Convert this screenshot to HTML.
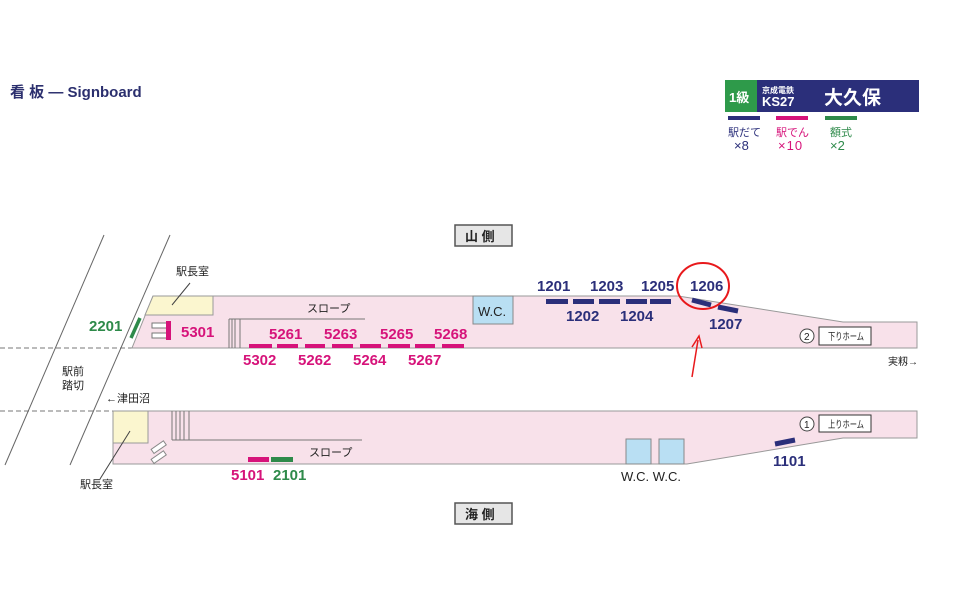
<!DOCTYPE html>
<html><head><meta charset="utf-8"><style>
body{margin:0;background:#fff}
svg{display:block}
text{font-family:"Liberation Sans","Noto Sans CJK JP",sans-serif}
</style></head><body>
<svg width="960" height="604" viewBox="0 0 960 604">
<text x="10" y="97" font-size="15" font-weight="bold" fill="#2b2f6e">看 板 — Signboard</text>
<!-- legend -->
<rect x="725" y="80" width="32" height="32" fill="#2e9a4a"/>
<rect x="757" y="80" width="162" height="32" fill="#2b2f7a"/>
<text x="729" y="102" font-size="13" font-weight="bold" fill="#fff">1級</text>
<text x="762" y="93" font-size="8" font-weight="bold" fill="#fff">京成電鉄</text>
<text x="762" y="106" font-size="13" font-weight="bold" fill="#fff">KS27</text>
<text x="824" y="104" font-size="19" font-weight="bold" fill="#fff">大久保</text>
<rect x="728" y="116" width="32" height="4" fill="#2b2f7a"/>
<rect x="776" y="116" width="32" height="4" fill="#d6137a"/>
<rect x="825" y="116" width="32" height="4" fill="#2e8a4a"/>
<text x="728" y="136" font-size="11" fill="#2b2f7a">駅だて</text>
<text x="734" y="150" font-size="13" fill="#2b2f7a">×8</text>
<text x="776" y="136" font-size="11" fill="#d6137a">駅でん</text>
<text x="778" y="150" font-size="13" fill="#d6137a" letter-spacing="1">×10</text>
<text x="830" y="136" font-size="11" fill="#2e8a4a">額式</text>
<text x="830" y="150" font-size="13" fill="#2e8a4a">×2</text>
<!-- side labels -->
<rect x="455" y="225" width="57" height="21" fill="#e6e6e6" stroke="#555" stroke-width="1.5"/>
<text x="465" y="241" font-size="13" font-weight="bold" fill="#222">山  側</text>
<rect x="455" y="503" width="57" height="21" fill="#e6e6e6" stroke="#555" stroke-width="1.5"/>
<text x="465" y="519" font-size="13" font-weight="bold" fill="#222">海  側</text>
<!-- dashed -->
<line x1="0" y1="348" x2="132" y2="348" stroke="#777" stroke-dasharray="5,3"/>
<line x1="0" y1="411" x2="113" y2="411" stroke="#777" stroke-dasharray="5,3"/>
<line x1="104" y1="235" x2="5" y2="465" stroke="#666"/>
<line x1="170" y1="235" x2="70" y2="465" stroke="#666"/>
<!-- upper platform -->
<polygon points="153,296 678,296 843,322 917,322 917,348 132,348" fill="#f8e1ea" stroke="#999" stroke-width="1"/>
<polygon points="153,296 213,296 213,315 145,315" fill="#fbf6cf" stroke="#999"/>
<line x1="172" y1="305" x2="190" y2="283" stroke="#444"/>
<text x="176" y="275" font-size="11" fill="#222">駅長室</text>
<rect x="473" y="296" width="40" height="28" fill="#b9dff3" stroke="#888"/>
<text x="478" y="316" font-size="13" fill="#222">W.C.</text>
<line x1="229" y1="319" x2="365" y2="319" stroke="#777"/>
<g stroke="#777"><line x1="229" y1="319" x2="229" y2="348"/><line x1="232" y1="319" x2="232" y2="348"/><line x1="235" y1="319" x2="235" y2="348"/><line x1="240" y1="319" x2="240" y2="348"/></g>
<text x="307" y="312" font-size="11" fill="#222">スロープ</text>
<rect x="152" y="323" width="15" height="5" fill="#fff" stroke="#777"/>
<rect x="152" y="333" width="15" height="5" fill="#fff" stroke="#777"/>
<rect x="166" y="321" width="5" height="19" fill="#d6137a"/>
<text x="181" y="337" font-size="15" font-weight="bold" fill="#d6137a">5301</text>
<line x1="131" y1="338" x2="140" y2="318" stroke="#2e8a4a" stroke-width="3.5"/>
<text x="89" y="331" font-size="15" font-weight="bold" fill="#2e8a4a">2201</text>
<g fill="#d6137a">
<rect x="249" y="344" width="23" height="4"/><rect x="277" y="344" width="21" height="4"/><rect x="305" y="344" width="20" height="4"/><rect x="332" y="344" width="21" height="4"/><rect x="360" y="344" width="21" height="4"/><rect x="388" y="344" width="22" height="4"/><rect x="415" y="344" width="20" height="4"/><rect x="442" y="344" width="22" height="4"/>
</g>
<g font-size="15" font-weight="bold" fill="#d6137a">
<text x="269" y="339">5261</text><text x="324" y="339">5263</text><text x="380" y="339">5265</text><text x="434" y="339">5268</text>
<text x="243" y="365">5302</text><text x="298" y="365">5262</text><text x="353" y="365">5264</text><text x="408" y="365">5267</text>
</g>
<g fill="#2b2f7a">
<rect x="546" y="299" width="22" height="5"/><rect x="573" y="299" width="21" height="5"/><rect x="599" y="299" width="21" height="5"/><rect x="626" y="299" width="21" height="5"/><rect x="650" y="299" width="21" height="5"/>
</g>
<line x1="692" y1="300" x2="711" y2="305" stroke="#2b2f7a" stroke-width="5"/>
<line x1="718" y1="307" x2="738" y2="311" stroke="#2b2f7a" stroke-width="5"/>
<g font-size="15" font-weight="bold" fill="#2b2f7a">
<text x="537" y="291">1201</text><text x="590" y="291">1203</text><text x="641" y="291">1205</text><text x="690" y="291">1206</text>
<text x="566" y="321">1202</text><text x="620" y="321">1204</text><text x="709" y="329">1207</text>
</g>
<ellipse cx="703" cy="286" rx="26" ry="23" fill="none" stroke="#e8191c" stroke-width="2"/>
<line x1="692" y1="377" x2="698" y2="340" stroke="#e8191c" stroke-width="1.5"/>
<polyline points="692,347 699,336 702,348" fill="none" stroke="#e8191c" stroke-width="1.5"/>
<circle cx="807" cy="336" r="7" fill="#fff" stroke="#444"/>
<text x="804" y="340" font-size="10" fill="#222">2</text>
<rect x="819" y="327" width="52" height="18" fill="#fff" stroke="#333"/>
<text x="828" y="340" font-size="10" fill="#222" textLength="36" lengthAdjust="spacingAndGlyphs">下りホーム</text>
<text x="888" y="365" font-size="10" fill="#222">実籾→</text>
<!-- lower platform -->
<polygon points="113,411 917,411 917,438 843,438 687,464 113,464" fill="#f8e1ea" stroke="#999"/>
<rect x="113" y="411" width="35" height="32" fill="#fbf6cf" stroke="#999"/>
<line x1="130" y1="431" x2="100" y2="479" stroke="#444"/>
<text x="80" y="488" font-size="11" fill="#222">駅長室</text>
<text x="106" y="402" font-size="11" fill="#222">←津田沼</text>
<text x="62" y="375" font-size="11" fill="#222">駅前</text>
<text x="62" y="389" font-size="11" fill="#222">踏切</text>
<line x1="172" y1="440" x2="362" y2="440" stroke="#777"/>
<g stroke="#777"><line x1="172" y1="411" x2="172" y2="440"/><line x1="176" y1="411" x2="176" y2="440"/><line x1="180" y1="411" x2="180" y2="440"/><line x1="184" y1="411" x2="184" y2="440"/><line x1="189" y1="411" x2="189" y2="440"/></g>
<text x="309" y="456" font-size="11" fill="#222">スロープ</text>
<rect x="151" y="445" width="15" height="5" fill="#fff" stroke="#888" transform="rotate(-35 158 447)"/>
<rect x="151" y="455" width="15" height="5" fill="#fff" stroke="#888" transform="rotate(-35 158 457)"/>
<rect x="248" y="457" width="21" height="5" fill="#d6137a"/>
<rect x="271" y="457" width="22" height="5" fill="#2e8a4a"/>
<text x="231" y="480" font-size="15" font-weight="bold" fill="#d6137a">5101</text>
<text x="273" y="480" font-size="15" font-weight="bold" fill="#2e8a4a">2101</text>
<rect x="626" y="439" width="25" height="25" fill="#b9dff3" stroke="#888"/>
<rect x="659" y="439" width="25" height="25" fill="#b9dff3" stroke="#888"/>
<text x="621" y="481" font-size="13" fill="#222">W.C.  W.C.</text>
<line x1="775" y1="444" x2="795" y2="440" stroke="#2b2f7a" stroke-width="5"/>
<text x="773" y="466" font-size="15" font-weight="bold" fill="#2b2f7a">1101</text>
<circle cx="807" cy="424" r="7" fill="#fff" stroke="#444"/>
<text x="804" y="428" font-size="10" fill="#222">1</text>
<rect x="819" y="415" width="52" height="17" fill="#fff" stroke="#333"/>
<text x="828" y="428" font-size="10" fill="#222" textLength="36" lengthAdjust="spacingAndGlyphs">上りホーム</text>
</svg>
</body></html>
